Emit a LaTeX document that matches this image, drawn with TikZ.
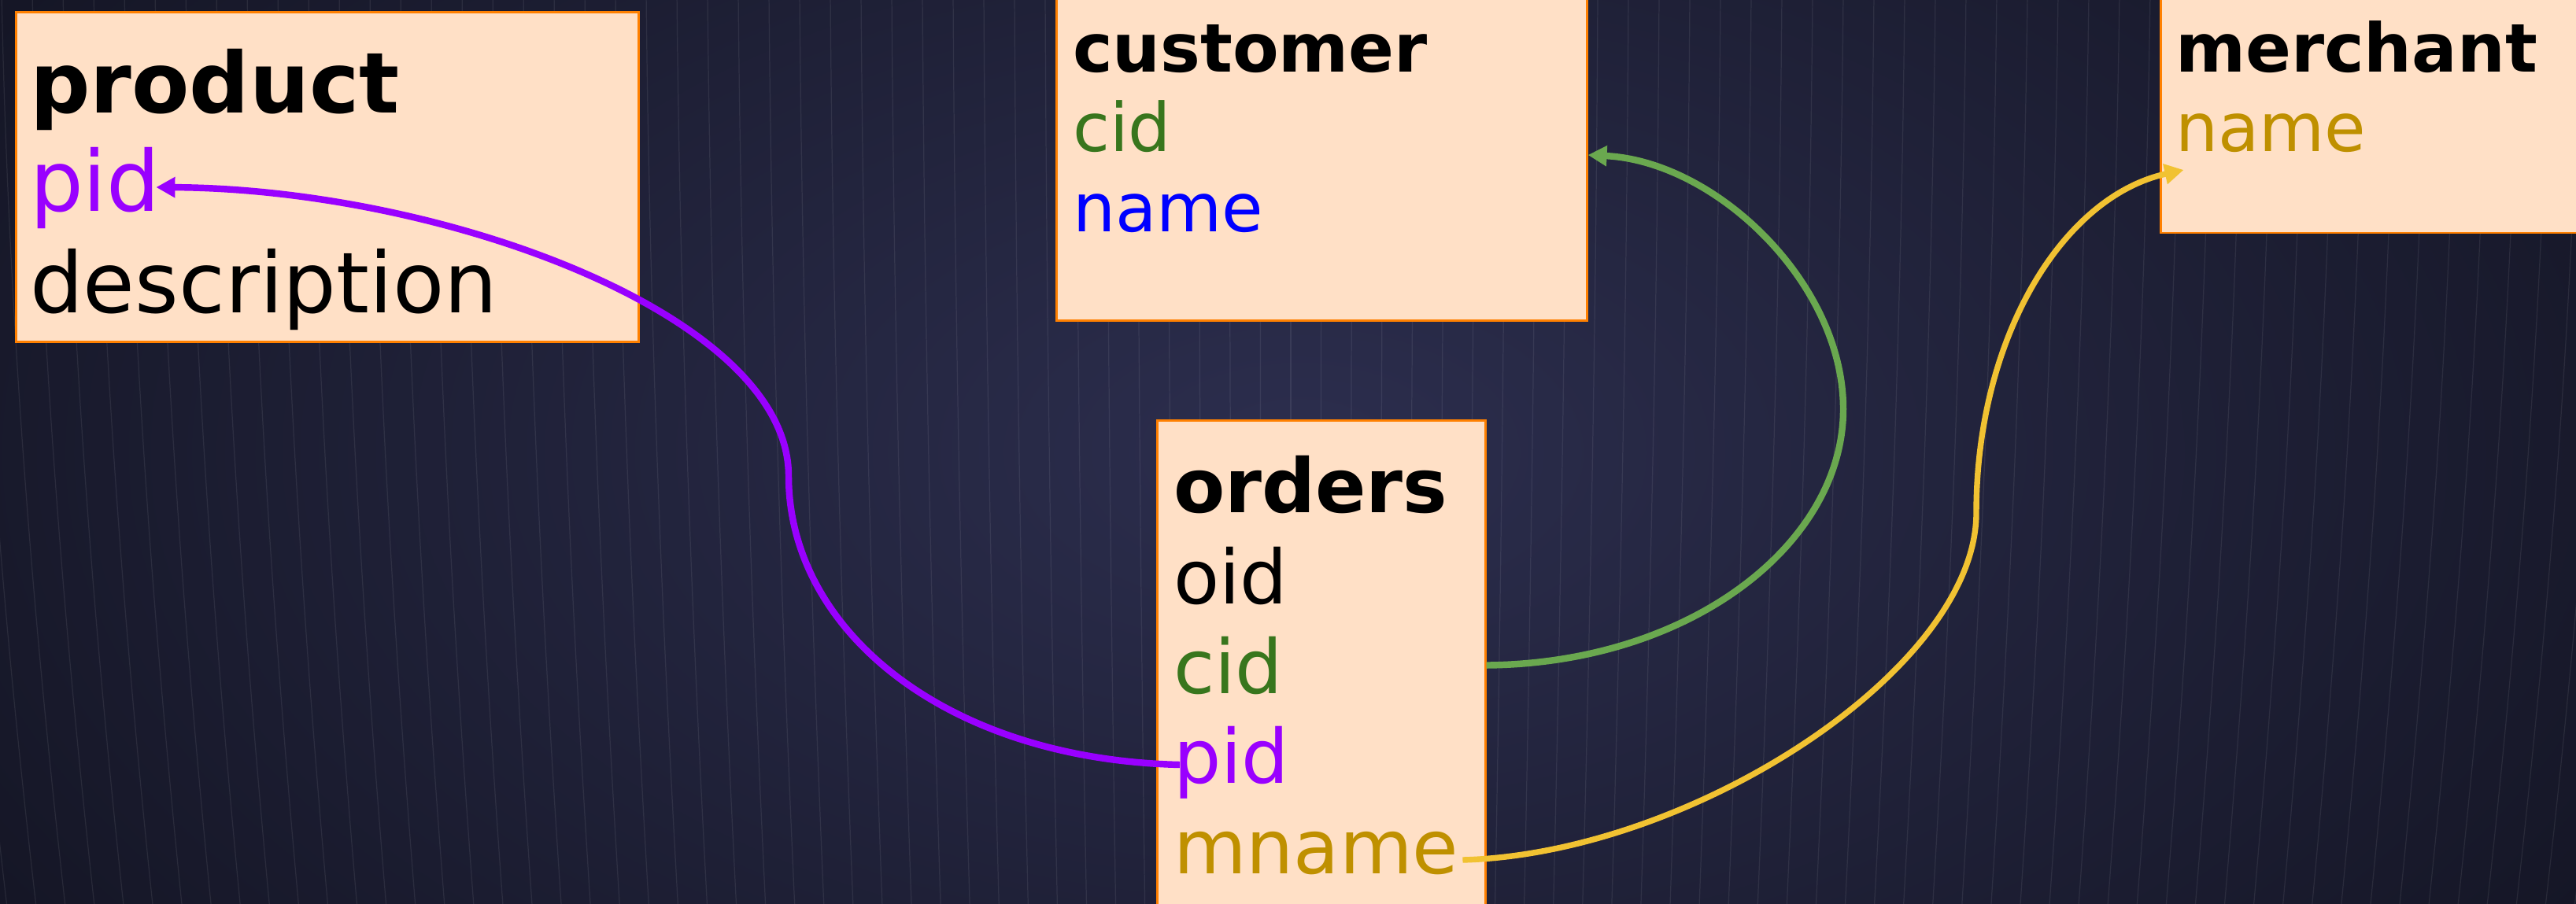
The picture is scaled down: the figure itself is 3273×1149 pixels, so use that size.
\documentclass[tikz,border=0pt]{standalone}
\usepackage{fontspec}
\setmainfont{DejaVu Sans}
\usetikzlibrary{arrows.meta,calc}
\definecolor{bgin}{RGB}{44,46,78}
\definecolor{bgout}{RGB}{17,18,31}
\definecolor{boxfill}{RGB}{255,224,198}
\definecolor{boxline}{RGB}{255,128,0}
\definecolor{purp}{RGB}{153,0,255}
\definecolor{greenline}{RGB}{106,168,79}
\definecolor{greentext}{RGB}{56,118,29}
\definecolor{yelline}{RGB}{241,194,50}
\definecolor{goldtext}{RGB}{191,144,0}
\definecolor{bluetext}{RGB}{0,0,255}
\newcommand\fProd{\fontsize{30.4pt}{36pt}\selectfont}
\newcommand\fOrd{\fontsize{27.05pt}{32pt}\selectfont}
\newcommand\fCust{\fontsize{24.3pt}{29pt}\selectfont}
\begin{document}
\begin{tikzpicture}[x=0.01cm,y=-0.01cm,
  tbox/.style={draw=boxline, fill=boxfill, line width=0.8pt, rectangle, inner sep=0pt},
  ttxt/.style={anchor=base west, inner sep=0pt, outer sep=0pt},
  bgline/.style={white, opacity=0.08, line width=0.35pt},
  conn/.style={line width=2.4pt, -{Triangle[length=0.24cm,width=0.25cm]}},
  ]
\useasboundingbox (0,0) rectangle (3273,1149);
\begin{scope}
  \clip (0,0) rectangle (3273,1149);
  \shade[inner color=bgin, outer color=bgout] (-600,-700) rectangle (3900,1850);
  \foreach \i in {-45,...,45} {
    \pgfmathsetmacro\xt{1640+\i*39}
    \pgfmathsetmacro\dd{(1640-\xt)*0.05}
    \draw[bgline] (\xt,-10) .. controls (\xt+0.1*\dd,400) and (\xt+0.5*\dd,800) .. (\xt+\dd,1160);
  }
\end{scope}

% boxes
\node[tbox, minimum width=7.9cm, minimum height=4.18cm] (product) at (416,225) {};
\node[tbox, minimum width=6.73cm, minimum height=4.37cm] (customer) at (1679.5,188.5) {};
\node[tbox, minimum width=4.16cm, minimum height=6.45cm] (orders) at (1679,857.5) {};
\node[tbox, minimum width=5.74cm, minimum height=3.26cm] (merchant) at (3033,133) {};

% product
\node[ttxt, font=\fProd\bfseries] (ptitle) at (38,144) {product};
\node[ttxt, font=\fProd, text=purp] (ppid) at (38,269) {pid};
\node[ttxt, font=\fProd] (pdesc) at (38,398) {description};

% customer
\node[ttxt, font=\fCust\bfseries] (ctitle) at (1363,92) {customer};
\node[ttxt, font=\fCust, text=greentext] (ccid) at (1363,193) {cid};
\node[ttxt, font=\fCust, text=bluetext] (cname) at (1363,295) {name};

% orders
\node[ttxt, font=\fOrd\bfseries] (otitle) at (1491,651) {orders};
\node[ttxt, font=\fOrd] (ooid) at (1491,767) {oid};
\node[ttxt, font=\fOrd, text=greentext] (ocid) at (1491,881) {cid};
\node[ttxt, font=\fOrd, text=purp] (opid) at (1491,995) {pid};
\node[ttxt, font=\fOrd, text=goldtext] (omname) at (1491,1110) {mname};

% merchant
\node[ttxt, font=\fCust\bfseries] (mtitle) at (2764,92) {merchant};
\node[ttxt, font=\fCust, text=goldtext] (mname) at (2764,193) {name};

% connectors
\draw[conn, purp] ($(opid.base west)+(8,-23)$)
  .. controls (1200,965) and (1002,800) .. (1002,605)
  .. controls (1002,400) and (560,240) .. ($(ppid.base east)+(-5,-31)$);
\draw[conn, greenline] (orders.east |- ocid.center)
  .. controls (2150,843) and (2342,690) .. (2342,520)
  .. controls (2342,360) and (2180,205) .. ($(customer.east |- ccid.base)+(0,4)$);
\draw[conn, yelline, line width=2.1pt] ($(omname.base east)+(5,-17)$)
  .. controls (2150,1085) and (2511,850) .. (2511,652)
  .. controls (2511,430) and (2620,250) .. ($(merchant.west |- mname.base)+(30,23)$);
\end{tikzpicture}
\end{document}
